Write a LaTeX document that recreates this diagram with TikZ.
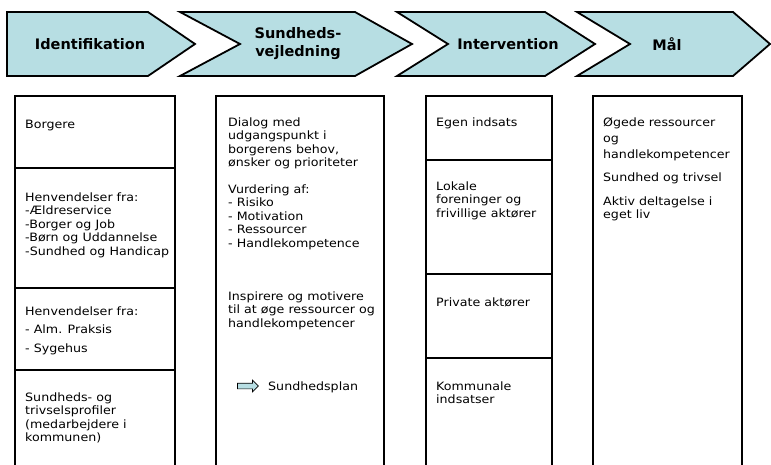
\documentclass[tikz,border=0pt]{standalone}
\usepackage{fontspec}
\setmainfont{DejaVu Sans}[FakeStretch=1.1]
\newfontfamily\headfont{DejaVu Sans}
\usetikzlibrary{shapes.arrows}
\definecolor{chevfill}{RGB}{183,222,227}
\tikzset{
  chevron/.style={draw=black, line width=1.8pt, fill=chevfill, line join=miter},
  head/.style={font=\headfont\bfseries\fontsize{14.5}{18}\selectfont, align=center, inner sep=0pt},
  cell/.style={font=\fontsize{11.5}{13.5}\selectfont, align=left, anchor=north west, inner sep=0pt},
  col/.style={line width=2.8pt},
  split/.style={line width=1.4pt}
}
\begin{document}
\begin{tikzpicture}[x=1pt,y=-1pt]
  \useasboundingbox (0,0) rectangle (771,465);
  % process steps
  \draw[chevron] (7,12) -- (148,12) -- (195,44) -- (148,76) -- (7,76) -- cycle;
  \draw[chevron] (180,12) -- (355,12) -- (412,44) -- (355,76) -- (180,76) -- (240,44) -- cycle;
  \draw[chevron] (397,12) -- (545,12) -- (595,44) -- (545,76) -- (397,76) -- (448,44) -- cycle;
  \draw[chevron] (577,12) -- (733,12) -- (770,44) -- (733,76) -- (577,76) -- (630,44) -- cycle;
  \node[head] (ident) at (90,44) {Identifikation};
  \node[head] (vejl) at (298,44) {Sundheds-\\vejledning};
  \node[head] (interv) at (508,44) {Intervention};
  \node[head] (maal) at (667,44) {Mål};
  % columns
  \draw[col] (15,465) -- (15,96) -- (175,96) -- (175,465);
  \draw[col] (216,465) -- (216,96) -- (384,96) -- (384,465);
  \draw[col] (426,465) -- (426,96) -- (552,96) -- (552,465);
  \draw[col] (593,465) -- (593,96) -- (742,96) -- (742,465);
  \draw[split] (15,168) -- (175,168);
  \draw[split] (15,288) -- (175,288);
  \draw[split] (15,370) -- (175,370);
  \draw[split] (426,160) -- (552,160);
  \draw[split] (426,274) -- (552,274);
  \draw[split] (426,358) -- (552,358);
  % identifikation
  \node[cell] (borgere) at (25,119.5) {Borgere};
  \node[cell] (henv1) at (25,192.5) {Henvendelser fra:\\-Ældreservice\\-Borger og Job\\-Børn og Uddannelse\\-Sundhed og Handicap};
  \node[cell, font=\fontsize{11.5}{18.5}\selectfont] (henv2) at (25,306.5) {Henvendelser fra:\\- Alm. Praksis\\- Sygehus};
  \node[cell] (profil) at (25,392.5) {Sundheds- og\\trivselsprofiler\\(medarbejdere i\\kommunen)};
  % sundhedsvejledning
  \node[cell] (dialog) at (228,117.5) {Dialog med\\udgangspunkt i\\borgerens behov,\\ønsker og prioriteter};
  \node[cell] (vurd) at (228,184.5) {Vurdering af:\\- Risiko\\- Motivation\\- Ressourcer\\- Handlekompetence};
  \node[cell] (inspir) at (228,291.5) {Inspirere og motivere\\til at øge ressourcer og\\handlekompetencer};
  \node[single arrow, draw=black, line width=0.7pt, fill=chevfill, minimum height=21pt,
        inner xsep=0pt, inner ysep=2.5pt, single arrow head extend=3pt] (planpil) at (246.5,386) {};
  \node[cell] (plan) at (268,382) {Sundhedsplan};
  % intervention
  \node[cell] (egen) at (436,117.5) {Egen indsats};
  \node[cell] (lokale) at (436,181.5) {Lokale\\foreninger og\\frivillige aktører};
  \node[cell] (privat) at (436,297.5) {Private aktører};
  \node[cell] (kommunal) at (436,381.5) {Kommunale\\indsatser};
  % maal
  \node[cell, font=\fontsize{11.5}{16}\selectfont] (oegede) at (603,117.5) {Øgede ressourcer\\og\\handlekompetencer};
  \node[cell] (trivsel) at (603,172.5) {Sundhed og trivsel};
  \node[cell] (aktiv) at (603,196.5) {Aktiv deltagelse i\\eget liv};
\end{tikzpicture}
\end{document}
